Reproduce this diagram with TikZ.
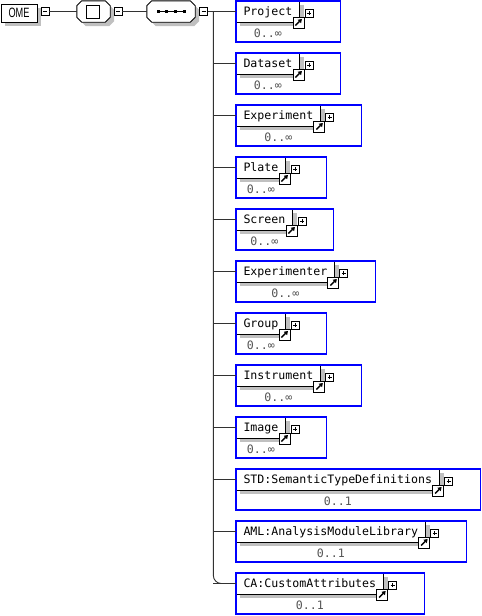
\documentclass[tikz,border=0pt]{standalone}
\usepackage{fontspec}
\usepackage{graphicx}
\usepackage{tikz}
\usetikzlibrary{arrows.meta, positioning, shadows}
\newfontfamily\elemfont{DejaVu Sans Mono}
\newfontfamily\omefont{Liberation Sans}
\definecolor{frameblue}{RGB}{0, 0, 255}
\definecolor{shadowgray}{RGB}{192, 192, 192}
\definecolor{linegray}{RGB}{50, 50, 50}
\definecolor{multgray}{RGB}{85, 85, 85}

\begin{document}
\begin{tikzpicture}[
    x=1pt, y=-1pt,
    flatshadow/.style={drop shadow={shadow xshift=4pt, shadow yshift=-4pt, opacity=1, fill=shadowgray}},
    root/.style={draw, fill=white, line width=0.9pt, minimum width=36pt, minimum height=18pt,
                 inner sep=0pt, font=\omefont\fontsize{13.5}{14}\selectfont, flatshadow},
    compositor/.style={minimum height=21pt, inner sep=0pt},
    octoutline/.style={insert path={
        ([xshift=5pt]#1.north west) -- ([xshift=-5pt]#1.north east) -- ([yshift=-5pt]#1.north east) --
        ([yshift=5pt]#1.south east) -- ([xshift=-5pt]#1.south east) -- ([xshift=5pt]#1.south west) --
        ([yshift=5pt]#1.south west) -- ([yshift=-5pt]#1.north west) -- cycle}},
    elem/.style={draw, fill=white, line width=0.9pt, outer sep=0pt, anchor=north west, minimum height=21pt,
                 inner xsep=7.5pt, inner ysep=0pt, text height=8.5pt, text depth=1.5pt,
                 font=\elemfont\fontsize{11.6}{12}\selectfont, flatshadow},
    mult/.style={inner sep=0pt, text height=8.5pt, text depth=1.5pt, text=multgray,
                 font=\elemfont\fontsize{11.6}{12}\selectfont},
    frame/.style={draw=frameblue, line width=1.1pt},
    conn/.style={draw=linegray, line width=0.9pt},
    btn/.style={draw, fill=white, line width=0.7pt, minimum size=8pt, inner sep=0pt},
    minusbtn/.style={btn, path picture={
        \draw ([xshift=2pt]path picture bounding box.west) -- ([xshift=-2pt]path picture bounding box.east);}},
    plusbtn/.style={btn, path picture={
        \draw ([xshift=2pt]path picture bounding box.west) -- ([xshift=-2pt]path picture bounding box.east);
        \draw ([yshift=-2pt]path picture bounding box.north) -- ([yshift=2pt]path picture bounding box.south);}},
    linkbtn/.style={draw, fill=white, line width=0.7pt, minimum size=11pt, inner sep=0pt, path picture={
        \draw[line width=1.4pt, -{Triangle[length=3.5pt, width=4.5pt]}]
            ([shift={(2.5pt,2.5pt)}]path picture bounding box.south west) --
            ([shift={(-2pt,-2pt)}]path picture bounding box.north east);}}
]
    \useasboundingbox (0,0) rectangle (482,616);

    % root element and compositors
    \node[root] (ome) at (19,13) {\scalebox{0.68}[1]{OME}};
    \node[minusbtn] (omebtn) at (45,11.5) {};
    \node[compositor, minimum width=33pt] (all) at (93.5,11.5) {};
    \node[compositor, minimum width=48pt] (seq) at (171,11.5) {};
    \foreach \c in {all, seq} {
        \fill[shadowgray, transform canvas={shift={(4pt,-4pt)}}, octoutline=\c];
        \draw[fill=white, line width=0.9pt, octoutline=\c];
    }
    \node[draw, line width=0.9pt, minimum size=13pt, inner sep=0pt] (allmark) at ([xshift=-1pt]all.center) {};
    \node[minusbtn] (allbtn) at (118,11.5) {};
    \draw[line width=0.8pt] ([xshift=-14pt]seq.center) -- ([xshift=14pt]seq.center);
    \foreach \dx in {-13,-4.5,4.5,13}
        \fill ([xshift=\dx pt]seq.center) +(-1.5pt,-1.5pt) rectangle +(1.5pt,1.5pt);
    \node[minusbtn] (seqbtn) at (203.5,11.5) {};

    \draw[conn] (omebtn) -- (all);
    \draw[conn] (allbtn) -- (seq);
    \draw[conn] (seqbtn.east) -- ++(5.5,0) coordinate (trunk);

    % child elements
    \foreach \label/\card [count=\i from 0] in {Project/0..∞, Dataset/0..∞, Experiment/0..∞,
            Plate/0..∞, Screen/0..∞, Experimenter/0..∞, Group/0..∞, Instrument/0..∞, Image/0..∞,
            STD:SemanticTypeDefinitions/0..1, AML:AnalysisModuleLibrary/0..1, CA:CustomAttributes/0..1} {
        \node[elem] (el\i) at (236, 1+52*\i) {\label};
        \node[mult, below=7pt of el\i] (card\i) {\card};
        \draw[frame] (el\i.north west) rectangle ([xshift=41pt, yshift=-20pt]el\i.south east);
        \node[linkbtn] (link\i) at ([xshift=-1.5pt, yshift=-0.5pt]el\i.south east) {};
        \node[plusbtn] (more\i) at ([xshift=9pt, yshift=-12pt]el\i.north east) {};
        \draw[conn] (trunk |- el\i.west) -- (el\i.west);
    }
    \draw[conn, rounded corners=8pt] (trunk) |- (el11.west);
\end{tikzpicture}
\end{document}
